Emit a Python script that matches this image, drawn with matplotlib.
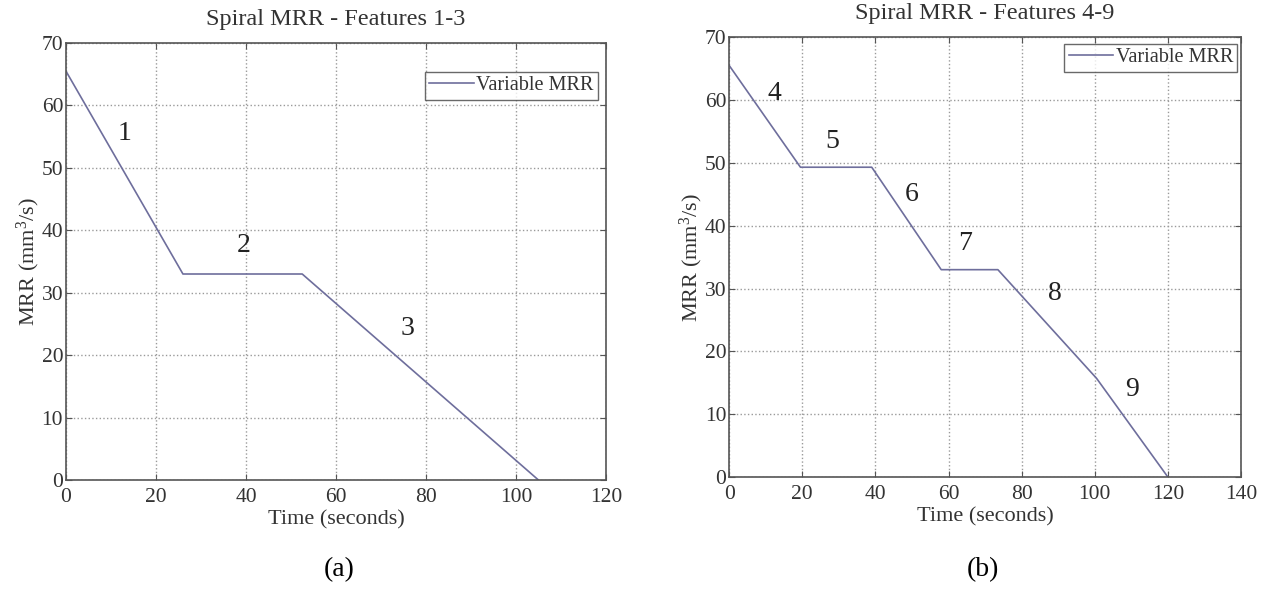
import matplotlib
matplotlib.use("Agg")
from matplotlib import pyplot as plt

# MRR profiles, spiral toolpath
time_a = [0, 26, 52.5, 105]
mrr_a = [65.5, 33, 33, 0]
labels_a = ["1", "2", "3"]
label_pos_a = [(13, 55.5), (39.5, 37.5), (76, 24.3)]

time_b = [0, 19.5, 39, 58, 73.5, 100.5, 120]
mrr_b = [65.5, 49.3, 49.3, 33, 33, 15.7, 0]
labels_b = ["4", "5", "6", "7", "8", "9"]
label_pos_b = [(12.4, 61.1), (28.1, 53.4), (50, 45), (64.5, 37.2), (89.2, 29.2), (110.3, 14)]

LINE_COLOR = "#6e6e9c"

plt.rcParams["font.family"] = ["Liberation Serif", "DejaVu Serif"]
plt.rcParams["mathtext.fontset"] = "custom"
plt.rcParams["mathtext.rm"] = "Liberation Serif"
plt.rcParams["mathtext.default"] = "regular"
plt.rcParams["text.color"] = "#333333"
plt.rcParams["axes.labelcolor"] = "#333333"
plt.rcParams["xtick.color"] = "#333333"
plt.rcParams["ytick.color"] = "#333333"


def mrr_panel(ax, t, m, labels, label_pos, title, xmax, leg_anchor):
    ax.plot(t, m, color=LINE_COLOR, lw=1.2, label="Variable MRR")
    for txt, (x, y) in zip(labels, label_pos):
        ax.text(x, y, txt, fontsize=20, ha="center", va="center", color="#222222")
    ax.set_xlim(0, xmax)
    ax.set_ylim(0, 70)
    ax.set_xticks(range(0, xmax + 1, 20))
    ax.set_yticks(range(0, 71, 10))
    ax.tick_params(direction="in", top=True, right=True, labelsize=15.5,
                   length=4, width=0.8, color="#555555")
    ax.tick_params(axis="y", pad=2)
    ax.tick_params(axis="x", pad=6)
    ax.grid(True, ls=":", lw=1.0, color="#9a9a9a")
    for sp in ax.spines.values():
        sp.set_color("#555555")
        sp.set_linewidth(1.2)
    ax.set_title(title, fontsize=17.5, pad=13)
    ax.set_xlabel("Time (seconds)", fontsize=16, labelpad=2)
    ax.set_ylabel("MRR (mm$^3$/s)", fontsize=16, labelpad=0)
    leg = ax.legend(loc="upper right", bbox_to_anchor=leg_anchor, borderaxespad=0,
                    fontsize=14.6, frameon=True, fancybox=False,
                    handlelength=2.2, handletextpad=0.1, borderpad=0.22)
    leg.get_frame().set_edgecolor("#444444")
    leg.get_frame().set_linewidth(1.0)


fig = plt.figure(figsize=(12.83, 5.89), dpi=100)

ax1 = fig.add_axes([0.0514, 0.185, 0.4209, 0.742])
mrr_panel(ax1, time_a, mrr_a, labels_a, label_pos_a, "Spiral MRR - Features 1-3", 120,
          (0.985, 0.934))

ax2 = fig.add_axes([0.5683, 0.190, 0.3990, 0.747])
mrr_panel(ax2, time_b, mrr_b, labels_b, label_pos_b, "Spiral MRR - Features 4-9", 140,
          (0.993, 0.985))

fig.text(0.264, 1 - 570 / 589, "(a)", fontsize=20, ha="center", va="center", color="black")
fig.text(0.766, 1 - 570 / 589, "(b)", fontsize=20, ha="center", va="center", color="black")

fig.savefig("out.png", dpi=100)
